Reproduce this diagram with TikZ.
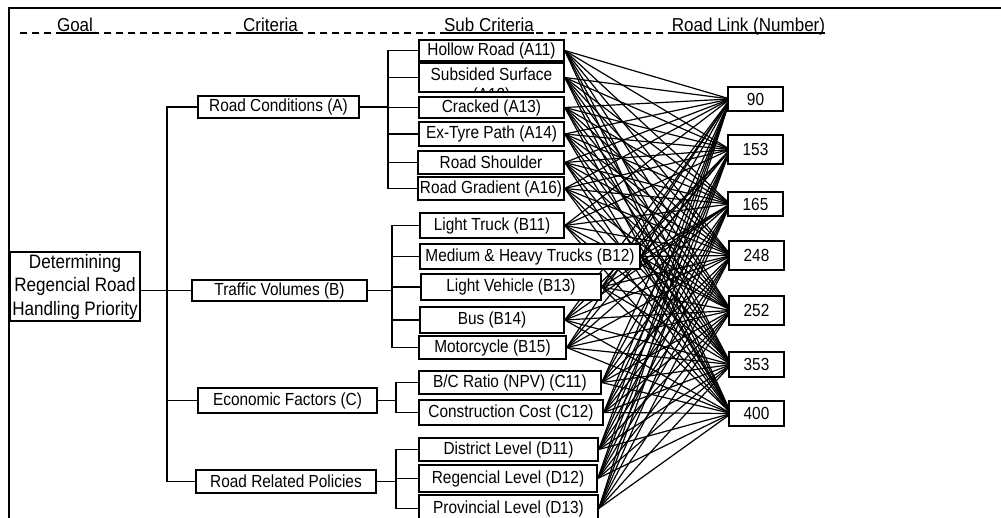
\documentclass[tikz,border=0pt]{standalone}
\usepackage{fontspec}
\setmainfont{Liberation Sans}
\newfontfamily\condfont[FakeStretch=0.88]{Liberation Sans}
\newfontfamily\hdrfont[FakeStretch=0.91]{Liberation Sans}
\usetikzlibrary{calc}
\pgfdeclarelayer{bg}
\pgfsetlayers{bg,main}
\tikzset{
  nbox/.style={draw, line width=1.5pt, inner sep=0pt, fill=white, align=center,
    font=\condfont\fontsize{17.5}{20}\selectfont},
  gbox/.style={draw, line width=1.5pt, inner sep=0pt, fill=white, align=center,
    font=\condfont\fontsize{19.4}{23.5}\selectfont},
  tree/.style={line width=1.7pt},
  linkline/.style={line width=1.2pt},
  hdr/.style={anchor=base, inner sep=0pt, font=\hdrfont\fontsize{18.7}{20}\selectfont},
  frame/.style={line width=2.4pt},
}
\newcommand\bx[7][nbox]{\node[#1, minimum width={(#4-#3)*1pt}, minimum height={(#6-#5)*1pt}] (#2) at ({(#3+#4)/2},{(#5+#6)/2}) {#7};}
\begin{document}
\begin{tikzpicture}[x=1pt,y=-1pt]
\useasboundingbox (0,0) rectangle (1001,517);
\clip (0,0) rectangle (1001,517);
% frame
\coordinate (ftl) at (9,8);
\coordinate (ftr) at (1005,8);
\coordinate (fbl) at (9,520);
\draw[frame] (ftr) -- (ftl) -- (fbl);
% header
\coordinate (dl) at (20,33);
\coordinate (dr) at (825,33);
\draw[line width=1.1pt, dash pattern=on 7pt off 5pt] (dl) -- (dr);
\node[hdr] (h1) at (75,31) {Goal};
\node[hdr] (h2) at (270.5,31) {Criteria};
\node[hdr] (h3) at (489,31) {Sub Criteria};
\node[hdr] (h4) at (748.5,31) {Road Link (Number)};
\foreach \h in {h1,h2,h3,h4}{
  \draw[line width=1.1pt] ([yshift=-2pt]\h.base west) -- ([yshift=-2pt]\h.base east);
}
% goal
\bx[gbox]{G}{10}{140}{252}{321}{Determining\\Regencial Road\\Handling Priority}
% criteria
\bx{A}{198}{359}{96}{118}{Road Conditions (A)}
\bx{B}{192}{367}{280}{301}{Traffic Volumes (B)}
\bx{C}{198}{377}{388}{413}{Economic Factors (C)}
\bx{D}{196}{376}{470}{493}{Road Related Policies}
% sub criteria
\bx{A11}{419}{564}{40}{61}{Hollow Road (A11)}
\bx{A12}{419}{564}{63}{92}{}
\begin{scope}
\clip (A12.south west) rectangle (A12.north east);
\node[align=center, inner sep=0pt, font=\condfont\fontsize{17.5}{20}\selectfont] (A12t) at (491.5,86) {Subsided Surface\\(A12)};
\end{scope}
\bx{A13}{419}{564}{97}{118}{Cracked (A13)}
\bx{A14}{419}{564}{122}{146}{Ex-Tyre Path (A14)}
\bx{A15}{418}{564}{151}{174}{Road Shoulder}
\bx{A16}{418}{564}{177}{200}{Road Gradient (A16)}
\bx{B11}{420}{564}{213}{238}{Light Truck (B11)}
\bx{B12}{420}{640}{244}{269}{Medium \& Heavy Trucks (B12)}
\bx{B13}{421}{601}{274}{300}{Light Vehicle (B13)}
\bx{B14}{420}{564}{307}{333}{Bus (B14)}
\bx{B15}{419}{566}{336}{359}{Motorcycle (B15)}
\bx{C11}{419}{601}{371}{394}{B/C Ratio (NPV) (C11)}
\bx{C12}{419}{603}{400}{425}{Construction Cost (C12)}
\bx{D11}{419}{598}{438}{461}{District Level (D11)}
\bx{D12}{419}{597}{465}{492}{Regencial Level (D12)}
\bx{D13}{419}{598}{495}{522}{Provincial Level (D13)}
% road links
\bx{L90}{728}{783}{87}{111}{90}
\bx{L153}{728}{783}{135}{164}{153}
\bx{L165}{728}{783}{192}{216}{165}
\bx{L248}{729}{784}{241}{270}{248}
\bx{L252}{729}{784}{296}{325}{252}
\bx{L353}{729}{784}{352}{377}{353}
\bx{L400}{729}{784}{401}{426}{400}
% tree
\coordinate (t) at (167,0);
\coordinate (ta) at (388,0);
\coordinate (tb) at (392,0);
\coordinate (tc) at (396,0);
\coordinate (td) at (396,0);
\draw[tree] (B.west -| G.east) -- (B.west);
\draw[tree] (A.west) -- (A.west -| t) -- (D.west -| t) -- (D.west);
\draw[tree] (C.west) -- (C.west -| t);
\draw[tree] (A.east) -- (A.east -| ta);
\draw[tree] (A11.west) -- (A11.west -| ta) -- (A16.west -| ta) -- (A16.west);
\foreach \s in {A12,A13,A14,A15}{\draw[tree] (\s.west) -- (\s.west -| ta);}
\draw[tree] (B.east) -- (B.east -| tb);
\draw[tree] (B11.west) -- (B11.west -| tb) -- (B15.west -| tb) -- (B15.west);
\foreach \s in {B12,B13,B14}{\draw[tree] (\s.west) -- (\s.west -| tb);}
\draw[tree] (C.east) -- (C.east -| tc);
\draw[tree] (C11.west) -- (C11.west -| tc) -- (C12.west -| tc) -- (C12.west);
\draw[tree] (D.east) -- (D.east -| td);
\draw[tree] (D11.west) -- (D11.west -| td) -- (D13.west -| td) -- (D13.west);
\draw[tree] (D12.west) -- (D12.west -| td);
% links
\begin{pgfonlayer}{bg}
\foreach \s in {A11,A12,A13,A14,A15,A16,B11,B12,B13,B14,B15,C11,C12,D11,D12,D13}{
  \foreach \l in {L90,L153,L165,L248,L252,L353,L400}{
    \draw[linkline] (\s.east) -- ([xshift=3pt]\l.west);
  }
}
\end{pgfonlayer}
\end{tikzpicture}
\end{document}
